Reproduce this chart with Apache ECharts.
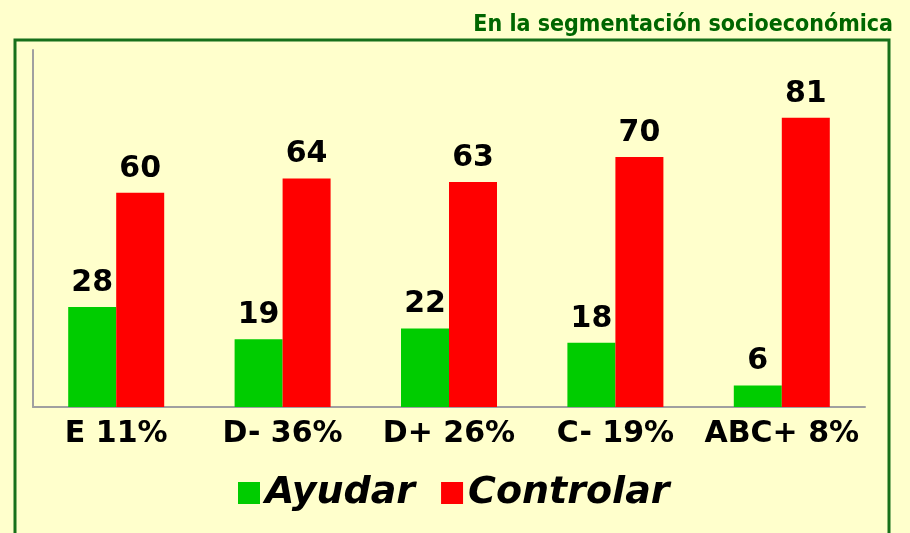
<!DOCTYPE html>
<html>
<head>
<meta charset="utf-8">
<script src="https://cdn.jsdelivr.net/npm/echarts@6/dist/echarts.min.js"></script>
<style>
  html, body { margin: 0; padding: 0; background: #FFFFCC; }
  #chart { width: 910px; height: 533px; }
</style>
</head>
<body>
<div id="chart"></div>
<script>
var categories = ['E 11%', 'D- 36%', 'D+ 26%', 'C- 19%', 'ABC+ 8%'];
var ayudar = [28, 19, 22, 18, 6];
var controlar = [60, 64, 63, 70, 81];

var myChart = echarts.init(document.getElementById('chart'));
var labelStyle = {
  show: true,
  position: 'top',
  distance: 9,
  fontFamily: 'DejaVu Sans',
  fontWeight: 'bold',
  fontSize: 30,
  color: '#000'
};

var option = {
  backgroundColor: '#FFFFCC',
  animation: false,
  title: {
    text: 'En la segmentación socioeconómica',
    right: 12,
    top: 9,
    textStyle: {
      fontFamily: 'DejaVu Sans Condensed',
      fontWeight: 'bold',
      fontSize: 23,
      color: '#006600'
    }
  },
  graphic: [{
    type: 'rect',
    z: -1,
    shape: { x: 15, y: 40, width: 874, height: 530 },
    style: { fill: 'none', stroke: '#17701A', lineWidth: 3 }
  }],
  legend: {
    data: ['Ayudar', 'Controlar'],
    left: 233,
    top: 469,
    itemWidth: 22,
    itemHeight: 22,
    itemGap: 26,
    icon: 'rect',
    textStyle: {
      fontFamily: 'DejaVu Sans',
      fontWeight: 'bold',
      fontStyle: 'italic',
      fontSize: 38,
      color: '#000'
    }
  },
  grid: { left: 33, right: 45, top: 50, bottom: 126 },
  xAxis: {
    type: 'category',
    data: categories,
    axisLine: { lineStyle: { color: '#A0A0A0', width: 2 } },
    axisTick: { show: false },
    axisLabel: {
      interval: 0,
      margin: 12,
      fontFamily: 'DejaVu Sans',
      fontWeight: 'bold',
      fontSize: 30,
      color: '#000'
    }
  },
  yAxis: {
    type: 'value',
    min: 0,
    max: 100,
    axisLine: { show: true, lineStyle: { color: '#A0A0A0', width: 2 } },
    axisTick: { show: false },
    axisLabel: { show: false },
    splitLine: { show: false }
  },
  series: [
    {
      name: 'Ayudar',
      type: 'bar',
      barWidth: 48,
      barGap: '0%',
      itemStyle: { color: '#00CC00' },
      label: labelStyle,
      data: ayudar
    },
    {
      name: 'Controlar',
      type: 'bar',
      barWidth: 48,
      barGap: '0%',
      itemStyle: { color: '#FF0000' },
      label: labelStyle,
      data: controlar
    }
  ]
};
option && myChart.setOption(option);
</script>
</body>
</html>
